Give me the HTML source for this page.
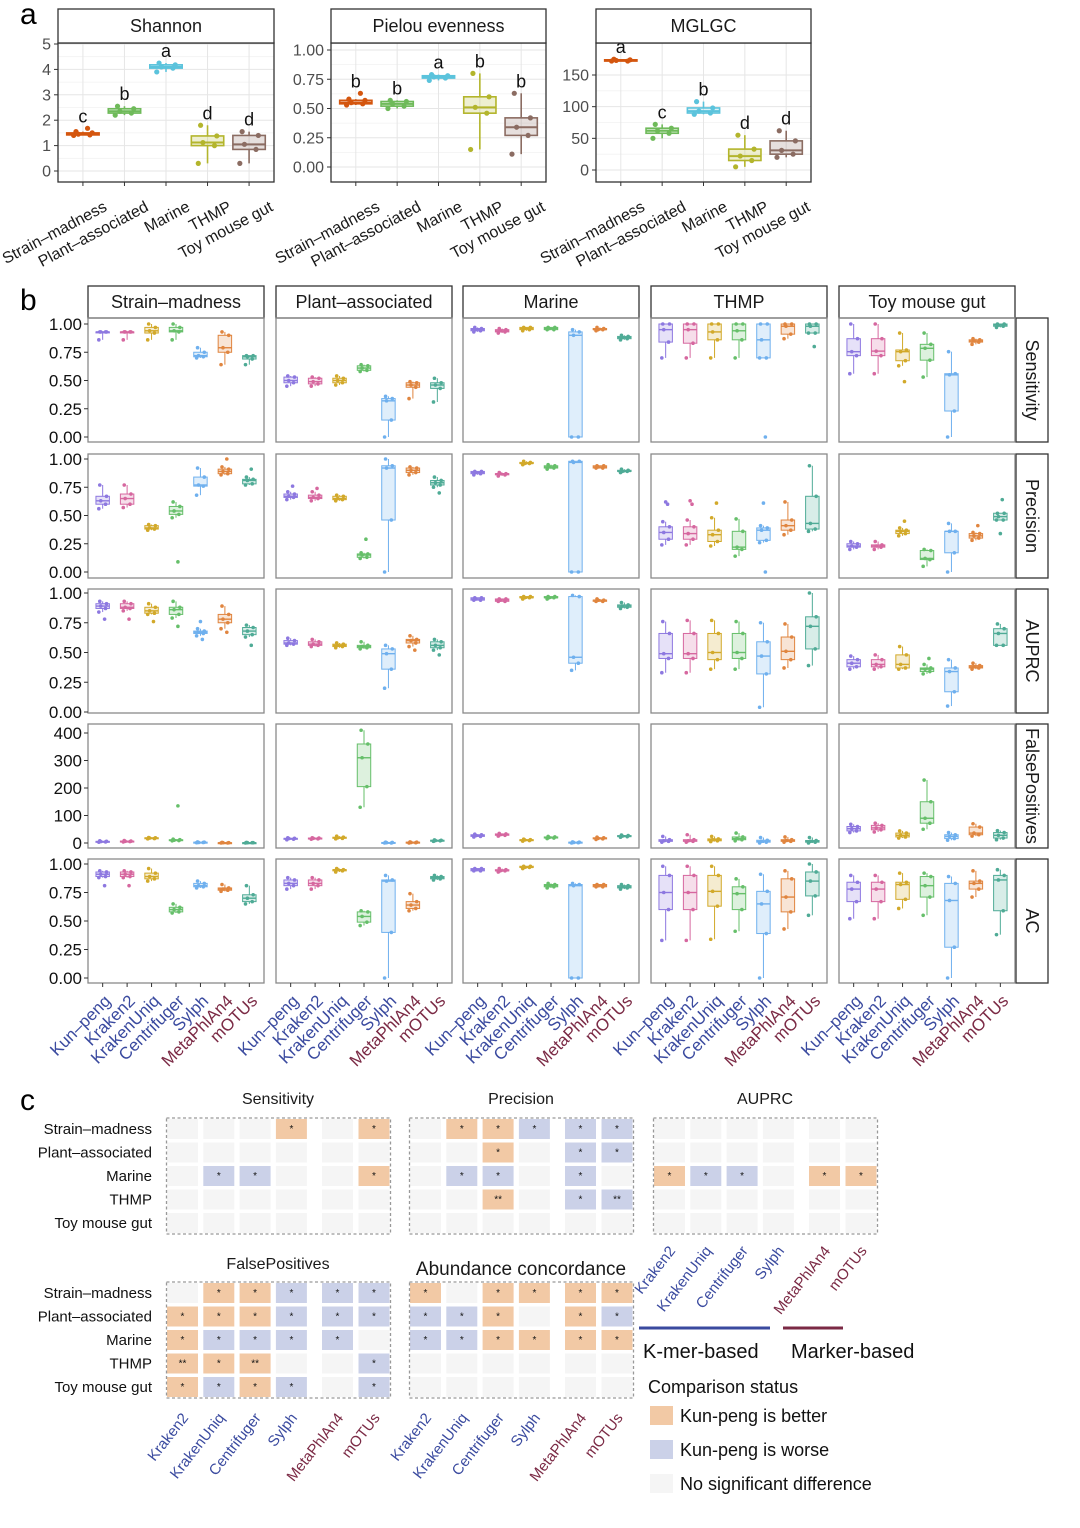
<!DOCTYPE html>
<html><head><meta charset="utf-8"><style>
body{margin:0;background:#fff}
svg{display:block;font-family:"Liberation Sans",Arial,sans-serif}
</style></head><body>
<svg id="fig" width="1080" height="1528" viewBox="0 0 1080 1528" xmlns="http://www.w3.org/2000/svg"></svg>
<script>
// ---------- Panel a data ----------
const aGroups=['Strain–madness','Plant–associated','Marine','THMP','Toy mouse gut'];
const shannonStats=[[1.4,1.42,1.45,1.5,1.55,[1.68]],[2.2,2.28,2.35,2.45,2.55],[3.9,4.05,4.1,4.18,4.25],[0.3,1.0,1.12,1.38,1.8],[0.3,0.85,1.05,1.4,1.55]];
const pielouStats=[[0.53,0.54,0.55,0.57,0.58,[0.63]],[0.5,0.52,0.54,0.56,0.57],[0.74,0.76,0.77,0.78,0.79],[0.15,0.46,0.51,0.6,0.8],[0.11,0.27,0.34,0.42,0.63]];
const mglgcStats=[[172,172,173,174,175],[50,58,62,66,72],[88,90,93,98,108],[5,15,22,33,55],[20,25,31,46,62]];
const shannonLetters=['c','b','a','d','d'];
const pielouLetters=['b','b','a','b','b'];
const mglgcLetters=['a','c','b','d','d'];
const shannonTicks=[0,1,2,3,4,5];
const pielouTicks=[0,0.25,0.5,0.75,1];
const mglgcTicks=[0,50,100,150];

// ---------- Panel b data ----------
const tools=['Kun–peng','Kraken2','KrakenUniq','Centrifuger','Sylph','MetaPhlAn4','mOTUs'];
const datasets=['Strain–madness','Plant–associated','Marine','THMP','Toy mouse gut'];
const metrics=['Sensitivity','Precision','AUPRC','FalsePositives','AC'];
const sensitivityStats=[
 [[.86,.93,.93,.93,.93],[.86,.93,.93,.93,.93],[.86,.92,.94,.97,1],[.86,.93,.94,.97,1],[.7,.71,.72,.75,.79],[.64,.75,.79,.9,.93],[.64,.69,.71,.72,.72]],
 [[.45,.48,.5,.53,.54],[.45,.47,.49,.52,.53],[.46,.48,.5,.52,.54],[.58,.59,.61,.63,.64],[0,.15,.32,.34,.36],[.34,.44,.46,.48,.49],[.31,.43,.46,.48,.52]],
 [[.93,.94,.95,.96,.97],[.92,.93,.94,.95,.96],[.94,.95,.96,.97,.97],[.95,.95,.96,.97,.97],[0,0,.9,.93,.95],[.94,.95,.95,.96,.97],[.86,.87,.88,.89,.9]],
 [[.7,.84,.95,1,1],[.7,.83,.95,1,1],[.7,.86,.93,1,1],[.7,.86,.94,1,1],[.7,.7,.86,1,1,[0]],[.87,.91,.98,1,1],[.92,.92,.98,1,1,[.8]]],
 [[.56,.72,.755,.87,1],[.56,.72,.76,.87,1],[.63,.675,.755,.77,.92,[.49]],[.53,.68,.785,.82,.92],[0,.23,.55,.56,.755],[.82,.84,.85,.86,.87],[.97,.98,.99,1,1]]];
const precisionStats=[
 [[.56,.6,.63,.67,.77],[.57,.6,.65,.69,.77],[.37,.38,.39,.41,.42],[.48,.51,.54,.58,.62,[.09]],[.68,.76,.77,.84,.92],[.86,.87,.89,.91,.93,[1]],[.77,.78,.81,.82,.84,[.91]]],
 [[.64,.66,.67,.69,.71,[.76]],[.63,.65,.66,.68,.71,[.74]],[.63,.64,.65,.67,.68],[.12,.13,.15,.16,.17,[.29]],[0,.46,.92,.94,1],[.86,.88,.9,.92,.93],[.75,.77,.79,.81,.84,[.7]]],
 [[.86,.87,.88,.89,.89],[.85,.86,.87,.87,.88],[.95,.96,.96,.97,.98],[.91,.92,.93,.94,.95],[0,0,.97,.98,.98],[.92,.92,.93,.94,.94],[.88,.89,.89,.9,.91]],
 [[.24,.29,.35,.4,.445,[.6,.62]],[.24,.29,.34,.4,.46,[.6,.63]],[.23,.27,.33,.37,.48,[.61]],[.14,.2,.22,.36,.47],[.26,.28,.37,.39,.41,[0,.61]],[.33,.37,.41,.46,.62],[.36,.38,.43,.67,.94]],
 [[.2,.22,.23,.25,.27],[.2,.22,.23,.24,.27],[.32,.34,.36,.37,.39,[.45]],[.05,.11,.12,.19,.2],[0,.17,.36,.36,.43],[.28,.3,.32,.34,.35,[.41]],[.46,.46,.49,.52,.52,[.64,.34]]]];
const auprcStats=[
 [[.84,.87,.89,.91,.93,[.78]],[.85,.87,.88,.91,.93,[.78]],[.82,.83,.85,.88,.91,[.76]],[.79,.82,.86,.88,.93,[.72]],[.64,.66,.67,.68,.7,[.61,.76]],[.7,.75,.78,.82,.89,[.67]],[.63,.65,.68,.71,.73,[.56]]],
 [[.56,.57,.58,.6,.62],[.55,.56,.57,.59,.61],[.54,.55,.56,.57,.58],[.53,.54,.55,.56,.59],[.2,.36,.49,.53,.56],[.55,.58,.6,.61,.64,[.52]],[.52,.54,.56,.59,.61,[.48]]],
 [[.94,.94,.95,.96,.96],[.93,.93,.94,.95,.95],[.95,.96,.96,.97,.97],[.95,.96,.96,.97,.97],[.35,.41,.46,.97,.98],[.93,.93,.94,.94,.95],[.87,.88,.89,.9,.92]],
 [[.33,.45,.49,.66,.76],[.33,.45,.49,.66,.77],[.36,.44,.5,.66,.77],[.36,.45,.5,.66,.76],[.04,.32,.47,.59,.75],[.37,.44,.51,.63,.74],[.39,.53,.72,.8,1]],
 [[.36,.38,.41,.44,.47],[.36,.38,.4,.44,.48],[.36,.37,.4,.48,.55],[.32,.34,.36,.37,.4,[.45]],[.05,.17,.34,.37,.44],[.36,.37,.38,.39,.41],[.56,.56,.66,.7,.74]]];
const falsePosStats=[
 [[3,4,5,6,8],[4,5,6,7,9],[15,16,18,19,20],[8,9,10,12,14,[135]],[1,2,2,3,4],[0,0,1,1,2],[0,1,1,1,2]],
 [[12,14,16,17,19],[14,15,17,18,19],[15,17,19,21,25],[130,205,310,360,410],[0,0,1,2,3],[0,1,2,3,4],[6,8,9,10,11]],
 [[22,24,27,30,32],[25,28,30,33,35],[7,9,11,12,14],[16,18,20,22,24],[0,1,2,3,4],[13,15,17,19,21],[21,23,25,27,29]],
 [[3,6,8,12,24],[3,6,8,12,30],[5,8,12,15,24],[8,12,16,22,36],[0,3,6,10,20],[3,6,9,12,22],[0,3,6,9,20]],
 [[38,44,52,60,68],[40,48,55,64,72],[18,22,28,36,44],[50,72,90,150,229],[10,16,24,30,38],[25,30,36,58,70],[12,18,28,38,45]]];
const acStats=[
 [[.88,.89,.91,.93,.94,[.81]],[.88,.89,.91,.93,.94,[.81]],[.85,.87,.89,.92,.96],[.57,.58,.6,.62,.65],[.79,.8,.81,.83,.85],[.76,.77,.78,.79,.82],[.65,.67,.7,.73,.81]],
 [[.78,.81,.83,.86,.88],[.78,.81,.83,.86,.88],[.93,.94,.95,.95,.96],[.46,.49,.54,.58,.59],[0,.4,.85,.86,.9],[.59,.61,.64,.67,.74],[.86,.87,.88,.89,.9]],
 [[.94,.94,.95,.96,.96],[.93,.94,.94,.95,.96],[.96,.97,.97,.98,.98],[.79,.8,.81,.82,.83],[0,0,.81,.82,.83],[.8,.8,.81,.82,.82],[.78,.79,.8,.81,.82]],
 [[.33,.6,.75,.9,.98],[.33,.6,.75,.9,.98],[.34,.63,.76,.9,.98],[.41,.6,.74,.8,.87],[0,.39,.65,.76,.91],[.43,.58,.71,.87,.94],[.55,.72,.85,.93,1]],
 [[.52,.67,.78,.84,.9],[.52,.67,.78,.84,.9],[.61,.69,.82,.84,.92],[.55,.71,.81,.89,.92],[0,.27,.68,.83,.89],[.71,.78,.83,.85,.94],[.38,.59,.86,.9,.95]]];
const unitTicks=[0,0.25,0.5,0.75,1];
const fpTicks=[0,100,200,300,400];

// ---------- Panel c data ----------
const cRows=['Strain–madness','Plant–associated','Marine','THMP','Toy mouse gut'];
const cTools=['Kraken2','KrakenUniq','Centrifuger','Sylph','MetaPhlAn4','mOTUs'];
const sensSig=[[0,0,0,1,0,1],[0,0,0,0,0,0],[0,-1,-1,0,0,1],[0,0,0,0,0,0],[0,0,0,0,0,0]];
const precSig=[[0,1,1,-1,-1,-1],[0,0,1,0,-1,-1],[0,-1,-1,0,-1,0],[0,0,2,0,-1,-2],[0,0,0,0,0,0]];
const auprcSig=[[0,0,0,0,0,0],[0,0,0,0,0,0],[1,-1,-1,0,1,1],[0,0,0,0,0,0],[0,0,0,0,0,0]];
const fpSig=[[0,1,1,-1,-1,-1],[1,1,1,-1,-1,-1],[1,-1,-1,-1,-1,0],[2,1,2,0,0,-1],[1,-1,1,-1,0,-1]];
const acSig=[[1,0,1,1,1,1],[-1,-1,1,0,1,-1],[-1,-1,1,1,1,1],[0,0,0,0,0,0],[0,0,0,0,0,0]];

// ---------- helpers ----------
const NS='http://www.w3.org/2000/svg';
const svg=document.getElementById('fig');
function mk(tag,a,p){const e=document.createElementNS(NS,tag);for(const k in a)e.setAttribute(k,a[k]);(p||svg).appendChild(e);return e;}
function tx(s,a,p){const e=mk('text',a,p);e.textContent=s;return e;}
const jit=[-4,3,-2,4,-3,2,0,-1];
const aCol=['#d4560f','#6fba5a','#5bc3dc','#b3b52c','#8b6c62'];
const tCol=['#8d78e0','#d6679f','#d2a92a','#66bf6a','#6fb0ee','#e0853f','#4fab96'];
const blueLab='#3a4a9f', redLab='#7b2a45';

function drawBox(g,cx,st,yf,color,w,r,sw,name){
  const bg=mk('g',{},g);
  
  
  mk('line',{x1:cx,x2:cx,y1:yf(st[0]),y2:yf(st[1]),stroke:color,'stroke-width':sw},bg);
  mk('line',{x1:cx,x2:cx,y1:yf(st[3]),y2:yf(st[4]),stroke:color,'stroke-width':sw},bg);
  const y3=yf(st[3]),y1=yf(st[1]);
  mk('rect',{x:cx-w/2,y:y3,width:w,height:Math.max(y1-y3,1),fill:color,'fill-opacity':0.22,stroke:color,'stroke-width':sw},bg);
  mk('line',{x1:cx-w/2,x2:cx+w/2,y1:yf(st[2]),y2:yf(st[2]),stroke:color,'stroke-width':sw+0.4},bg);
  const pts=[st[0],st[1],st[2],st[3],st[4]].concat(st[5]||[]);
  pts.forEach((v,i)=>{mk('circle',{cx:cx+jit[i%8]*w/14,cy:yf(v),r:r,fill:color},bg);});
}

// ---------- panel letters ----------
let L=tx('a',{x:20,y:24,'font-size':30},svg);

L=tx('b',{x:20,y:310,'font-size':30},svg);

L=tx('c',{x:20,y:1110,'font-size':30},svg);


// ---------- Panel a ----------
const aFacets=[
 {title:'Shannon',x0:58,x1:274,vy0:171,vy1:44,v0:0,v1:5,ticks:shannonTicks,stats:shannonStats,letters:shannonLetters,fmt:v=>String(v)},
 {title:'Pielou evenness',x0:331,x1:546,vy0:167,vy1:50,v0:0,v1:1,ticks:pielouTicks,stats:pielouStats,letters:pielouLetters,fmt:v=>v.toFixed(2)},
 {title:'MGLGC',x0:596,x1:811,vy0:170,vy1:75,v0:0,v1:150,ticks:mglgcTicks,stats:mglgcStats,letters:mglgcLetters,fmt:v=>String(v)}];
aFacets.forEach((f,fi)=>{
  const g=mk('g',{});
  
  
  const yf=v=>f.vy0+(v-f.v0)/(f.v1-f.v0)*(f.vy1-f.vy0);
  const W=f.x1-f.x0, step=W/5.2, xf=i=>f.x0+(i+0.6)*step;
  const top=43,bot=182;
  const minor=[];for(let i=0;i<f.ticks.length-1;i++)minor.push((f.ticks[i]+f.ticks[i+1])/2);
  minor.forEach(v=>mk('line',{x1:f.x0,x2:f.x1,y1:yf(v),y2:yf(v),stroke:'#f2f2f2','stroke-width':0.8},g));
  f.ticks.forEach(v=>mk('line',{x1:f.x0,x2:f.x1,y1:yf(v),y2:yf(v),stroke:'#e6e6e6','stroke-width':1},g));
  aGroups.forEach((n,i)=>mk('line',{x1:xf(i),x2:xf(i),y1:top,y2:bot,stroke:'#e6e6e6','stroke-width':1},g));
  f.stats.forEach((st,i)=>{
    drawBox(g,xf(i),st,yf,aCol[i],step*0.78,2.6,1.6,'box-'+aGroups[i].toLowerCase().replace(/[ –]/g,'-'));
    const mx=Math.max(st[4],...(st[5]||[]));
    const lt=tx(f.letters[i],{x:xf(i),y:yf(mx)-6,'text-anchor':'middle','font-size':18,fill:'#111'},g);
    
    
  });
  mk('rect',{x:f.x0,y:top,width:W,height:bot-top,fill:'none',stroke:'#333','stroke-width':1.3},g);
  const sr=mk('rect',{x:f.x0,y:9,width:W,height:34,fill:'#fff',stroke:'#333','stroke-width':1.3},g);
  
  
  tx(f.title,{x:f.x0+W/2,y:32,'text-anchor':'middle','font-size':18,fill:'#1a1a1a'},g);
  f.ticks.forEach(v=>{
    mk('line',{x1:f.x0-4,x2:f.x0,y1:yf(v),y2:yf(v),stroke:'#333'},g);
    const t=tx(f.fmt(v),{x:f.x0-7,y:yf(v)+5.5,'text-anchor':'end','font-size':16,fill:'#4d4d4d'},g);
    
    
  });
  aGroups.forEach((n,i)=>{
    mk('line',{x1:xf(i),x2:xf(i),y1:bot,y2:bot+4,stroke:'#333'},g);
    const t=tx(n,{x:0,y:0,'text-anchor':'end','font-size':16,fill:'#1a1a1a',transform:`translate(${xf(i)+25},${bot+28}) rotate(-28)`},g);
    
    
  });
});

// ---------- Panel b ----------
const colX=[88,276,463,651,839], colW=176;
const rowTop=[318,454,589,724,859], rowH=124;
const rowMap=[
 {stats:sensitivityStats,ticks:unitTicks,p0:437,p1:324,v1:1,fmt:v=>v.toFixed(2)},
 {stats:precisionStats,ticks:unitTicks,p0:572,p1:459,v1:1,fmt:v=>v.toFixed(2)},
 {stats:auprcStats,ticks:unitTicks,p0:712,p1:593,v1:1,fmt:v=>v.toFixed(2)},
 {stats:falsePosStats,ticks:fpTicks,p0:843,p1:733,v1:400,fmt:v=>String(v)},
 {stats:acStats,ticks:unitTicks,p0:978,p1:864,v1:1,fmt:v=>v.toFixed(2)}];
datasets.forEach((d,ci)=>{
  const x0=colX[ci];
  const s=mk('rect',{x:x0,y:286,width:colW,height:32,fill:'#fff',stroke:'#333','stroke-width':1.3});
  
  
  tx(d,{x:x0+colW/2,y:308,'text-anchor':'middle','font-size':18,fill:'#1a1a1a'});
});
metrics.forEach((m,ri)=>{
  const s=mk('rect',{x:1016,y:rowTop[ri],width:32,height:rowH,fill:'#fff',stroke:'#333','stroke-width':1.3});
  
  
  tx(m,{x:0,y:0,'text-anchor':'middle','font-size':18,fill:'#1a1a1a',transform:`translate(1026,${rowTop[ri]+rowH/2}) rotate(90)`});
});
rowMap.forEach((R,ri)=>{
  const yf=v=>R.p0+(v/R.v1)*(R.p1-R.p0);
  datasets.forEach((d,ci)=>{
    const x0=colX[ci];
    const g=mk('g',{});
    
    
    const step=colW/7.2, xf=i=>x0+(i+0.6)*step;
    R.stats[ci].forEach((st,ti)=>drawBox(g,xf(ti),st,yf,tCol[ti],step*0.55,1.8,1,'box-'+tools[ti].toLowerCase().replace(/–/g,'-')));
    mk('rect',{x:x0,y:rowTop[ri],width:colW,height:rowH,fill:'none',stroke:'#8a8a8a','stroke-width':1.3},g);
    if(ci===0){
      R.ticks.forEach(v=>{
        mk('line',{x1:x0-4,x2:x0,y1:yf(v),y2:yf(v),stroke:'#333'},g);
        const t=tx(R.fmt(v),{x:x0-6,y:yf(v)+6,'text-anchor':'end','font-size':17,fill:'#111'},g);
        
        
      });
    }
    if(ri===4){
      tools.forEach((t,ti)=>{
        mk('line',{x1:xf(ti),x2:xf(ti),y1:983,y2:987,stroke:'#333'},g);
        const lb=tx(t,{x:0,y:0,'text-anchor':'end','font-size':17,fill:ti<5?blueLab:redLab,transform:`translate(${xf(ti)+9},${1002}) rotate(-45)`},g);
        
        
      });
    }
  });
});

// ---------- Panel c ----------
const tileOff=[0,36.3,72.6,108.9,155,191.5];
const topRowsY=[1119,1142.5,1166,1189.5,1213], botRowsY=[1283,1306.5,1330,1353.5,1377];
const heatmaps=[
 {title:'Sensitivity',sig:sensSig,x0:167,rows:topRowsY,ty:1104,fs:16,labels:false},
 {title:'Precision',sig:precSig,x0:410,rows:topRowsY,ty:1104,fs:16,labels:false},
 {title:'AUPRC',sig:auprcSig,x0:654,rows:topRowsY,ty:1104,fs:16,labels:true},
 {title:'FalsePositives',sig:fpSig,x0:167,rows:botRowsY,ty:1269,fs:16,labels:true},
 {title:'Abundance concordance',sig:acSig,x0:410,rows:botRowsY,ty:1275,fs:19,labels:true}];
heatmaps.forEach((h,hi)=>{
  const g=mk('g',{});
  
  
  tx(h.title,{x:h.x0+111,y:h.ty,'text-anchor':'middle','font-size':h.fs,fill:'#1a1a1a'},g);
  h.sig.forEach((row,ri)=>row.forEach((v,ti)=>{
    const col=v>0?'#f2c9a5':(v<0?'#cbd1e8':'#f5f5f5');
    const c=mk('rect',{x:h.x0+tileOff[ti],y:h.rows[ri],width:31,height:20,fill:col},g);
    
    
    if(v!==0)tx(Math.abs(v)===2?'**':'*',{x:h.x0+tileOff[ti]+15.5,y:h.rows[ri]+13,'text-anchor':'middle','font-size':10,fill:'#111'},g);
  }));
  mk('rect',{x:h.x0-0.5,y:h.rows[0]-1,width:224,height:116,fill:'none',stroke:'#999','stroke-width':1.3,'stroke-dasharray':'3,2.5'},g);
  if(h.x0===167){
    cRows.forEach((r,ri)=>{
      const t=tx(r,{x:152,y:h.rows[ri]+15,'text-anchor':'end','font-size':15,fill:'#111'},g);
      
      
    });
  }
  if(h.labels){
    const by=h.rows[4]+20+(hi===2?12:15);
    cTools.forEach((t,ti)=>{
      const lb=tx(t,{x:0,y:0,'text-anchor':'end','font-size':15,fill:ti<4?blueLab:redLab,transform:`translate(${h.x0+tileOff[ti]+22},${by+6}) rotate(-52)`},g);
      
      
    });
  }
});
let e=mk('line',{x1:639,x2:770,y1:1328,y2:1328,stroke:'#3a4a9f','stroke-width':3});

e=mk('line',{x1:783,x2:843,y1:1328,y2:1328,stroke:'#7b2a45','stroke-width':3});

e=tx('K-mer-based',{x:643,y:1358,'font-size':20,fill:'#111'});

e=tx('Marker-based',{x:791,y:1358,'font-size':20,fill:'#111'});

e=tx('Comparison status',{x:648,y:1393,'font-size':18,fill:'#111'});

const legItems=[['Kun-peng is better','#f2c9a5'],['Kun-peng is worse','#cbd1e8'],['No significant difference','#f5f5f5']];
legItems.forEach((it,i)=>{
  const g=mk('g',{});
  
  
  mk('rect',{x:650,y:1406+i*34,width:23,height:19,fill:it[1]},g);
  tx(it[0],{x:680,y:1422+i*34,'font-size':18,fill:'#111'},g);
});
</script>
</body></html>
